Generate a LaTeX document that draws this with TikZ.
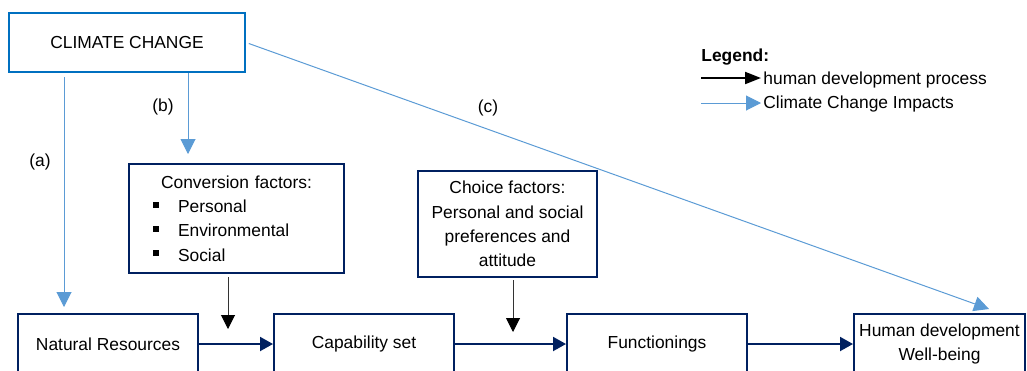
\documentclass[tikz,border=0pt]{standalone}
\usepackage{fontspec}
\setmainfont{Liberation Sans}
\usetikzlibrary{arrows.meta, positioning}
\definecolor{ccblue}{RGB}{0,112,192}
\definecolor{impblue}{RGB}{91,155,213}
\definecolor{hdnavy}{RGB}{0,32,96}
\newcommand{\diagfont}{\fontsize{8.7}{12.15}\selectfont}
\newcommand{\cfbullet}{\rule[2.5pt]{3pt}{3pt}\hspace{9.5pt}}
\tikzset{
  clima/.style={rectangle, draw=ccblue, line width=1pt, minimum width=118pt, minimum height=29.5pt, text centered},
  proc/.style={rectangle, draw=hdnavy, line width=1pt, minimum width=90pt, minimum height=30pt, align=center, inner sep=0pt},
  factor/.style={rectangle, draw=hdnavy, line width=1pt, inner sep=0pt},
  impacto/.style={draw=impblue, line width=0.5pt, -{Triangle[length=7.5pt, width=7.5pt]}},
  pointer/.style={draw=black!80, line width=0.5pt, -{Triangle[length=7pt, width=7pt, color=black]}},
  arrow/.style={draw=hdnavy, line width=1pt, -{Triangle[length=6.5pt, width=7pt]}},
  legproc/.style={draw=black, line width=1pt, -{Triangle[length=8pt, width=6pt]}}
}
\begin{document}
\begin{tikzpicture}[x=0.5pt, y=-0.5pt, font=\diagfont]
  \useasboundingbox (0,0) rectangle (1027,370);
  \node (cc) [clima] at (127,42.5) {CLIMATE CHANGE};
  \node (conv) [factor, minimum width=107.5pt, minimum height=54.5pt, text width=83.5pt, align=left] at (236.5,218.5)
    {\makebox[83.5pt]{Conversion factors:}\\ \cfbullet Personal\\ \cfbullet Environmental\\ \cfbullet Social};
  \node (choice) [factor, minimum width=89.5pt, minimum height=53pt, align=center] at (507.5,224)
    {Choice factors:\\ Personal and social\\ preferences and\\ attitude};
  \node (nr) [proc] at (108,344) {Natural Resources};
  \node (cs) [proc, right=37pt of nr] {Capability set};
  \node (fn) [proc, right=55.5pt of cs] {Functionings};
  \node (hd) [proc, minimum width=85.5pt, right=52.5pt of fn] {Human development\\ Well-being};
  \draw [arrow] (nr) -- (cs);
  \draw [arrow] (cs) -- (fn);
  \draw [arrow] (fn) -- (hd);
  % factor influences
  \coordinate (convtip) at (228,329);
  \coordinate (choicetip) at (513,332);
  \draw [pointer, shorten <=1.5pt] (conv.south -| convtip) -- (convtip);
  \draw [pointer, shorten <=1pt] (choice.south -| choicetip) -- (choicetip);
  % climate change impacts
  \coordinate (atip) at (64,307);
  \coordinate (btip) at (188,154);
  \coordinate (ctip) at (989,309);
  \draw [impacto, shorten <=2pt] (cc.south -| atip) -- (atip);
  \draw [impacto] (cc.south -| btip) -- (btip);
  \draw [impacto, shorten <=1.5pt] (cc.east) -- (ctip);
  \node (la) at (40,162) {(a)};
  \node (lb) at (163,107) {(b)};
  \node (lc) at (488,108) {(c)};
  % legend
  \node (leg) [anchor=west, inner sep=0pt, font=\diagfont\bfseries] at (701,57) {Legend:};
  \coordinate (p0) at (701,78);
  \coordinate (p1) at (761,78);
  \coordinate (i0) at (701,103);
  \coordinate (i1) at (761,103);
  \draw [legproc] (p0) -- (p1);
  \draw [impacto] (i0) -- (i1);
  \node (lp) [anchor=west, inner sep=0pt] at (763,80) {human development process};
  \node (li) [anchor=west, inner sep=0pt] at (763,104) {Climate Change Impacts};
\end{tikzpicture}
\end{document}
